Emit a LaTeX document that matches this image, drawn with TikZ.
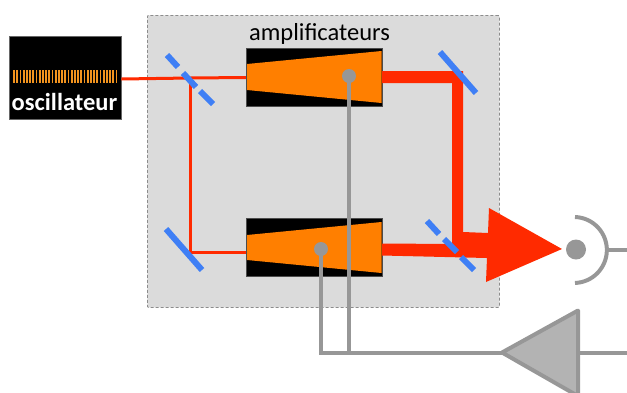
\documentclass[tikz,border=0pt]{standalone}
\usepackage{fontspec}
\setmainfont{Carlito}
\definecolor{redb}{HTML}{FF2A00}
\definecolor{blueb}{HTML}{3F7FF5}
\definecolor{grayl}{HTML}{979797}
\definecolor{panel}{HTML}{DBDBDB}
\definecolor{orng}{HTML}{FF7F00}
\definecolor{orbar}{HTML}{F2931E}
\definecolor{trif}{HTML}{B3B3B3}
\tikzset{
 mirror/.style={draw=blueb,line width=6pt},
 thinbeam/.style={draw=redb,line width=3pt},
 wire/.style={draw=grayl,line width=4pt},
 ampbox/.style={fill=black,draw=black!70,line width=.5pt,minimum width=136pt,minimum height=58pt,inner sep=0pt,anchor=north west},
 gain/.style={fill=orng},
 dot/.style={circle,fill=grayl,inner sep=0pt,minimum size=14pt},
}
\begin{document}
\begin{tikzpicture}[x=1pt,y=-1pt]
\useasboundingbox (0,0) rectangle (627,392);
% panel
\node[draw=black!45,densely dashed,line width=.8pt,fill=panel,rounded corners=1pt,minimum width=352pt,minimum height=292pt,inner sep=0pt,anchor=north west] (panelbox) at (147,15) {};
% oscillator
\node[fill=black,draw=black!60,line width=.4pt,minimum width=112pt,minimum height=83pt,inner sep=0pt,anchor=north west] (osc) at (9,36) {};
\foreach \i in {0,...,32} \fill[orbar] ({13.2+\i*3.2},69.5) rectangle ++(1.7,13.5);
\node[text=white,font=\fontsize{24.5}{26}\selectfont\bfseries,inner sep=0pt] (osclabel) at (64.5,102) {oscillateur};
% amplifiers
\node[ampbox] (ampA) at (246,48) {};
\node[ampbox] (ampB) at (246,218) {};
\fill[gain] (247,64) -- (381.5,51) -- (381.5,103) -- (247,90) -- cycle;
\fill[gain] (247,235) -- (381.5,222) -- (381.5,273) -- (247,260) -- cycle;
\node[font=\fontsize{24.5}{26}\selectfont,inner sep=0pt] (amplabel) at (319.5,33.5) {amplificateurs};
% named beam points
\coordinate (splitter) at (190,78);
\coordinate (foldL) at (190,252);
% thin beams
\draw[thinbeam] (osc.east |- 0,79) -- (splitter) -- (ampA.west |- 0,77.5);
\draw[thinbeam] (splitter) -- (foldL) -- (ampB.west |- 0,252);
% thick beams and output arrow
\fill[redb] (382,71) -- (463,71) -- (463,232) -- (488,233) -- (489,208) -- (562,249) -- (486,282) -- (487,258) -- (382,255.5) -- (382,243.5) -- (452,244) -- (452,83) -- (382,83) -- cycle;
% mirrors
\coordinate (m1a) at (167,55); \coordinate (m1b) at (178,67);
\coordinate (m1c) at (183,73); \coordinate (m1d) at (196,87);
\coordinate (m1e) at (200,91); \coordinate (m1f) at (213,104);
\draw[mirror] (m1a) -- (m1b);
\draw[mirror] (m1c) -- (m1d);
\draw[mirror] (m1e) -- (m1f);
\coordinate (m2a) at (166,229); \coordinate (m2b) at (202,270);
\draw[mirror] (m2a) -- (m2b);
\coordinate (m3a) at (440,52); \coordinate (m3b) at (476,93);
\draw[mirror] (m3a) -- (m3b);
\coordinate (m4a) at (427,221); \coordinate (m4b) at (439,234);
\coordinate (m4c) at (444,239); \coordinate (m4d) at (457,252);
\coordinate (m4e) at (461,257); \coordinate (m4f) at (474,270);
\draw[mirror] (m4a) -- (m4b);
\draw[mirror] (m4c) -- (m4d);
\draw[mirror] (m4e) -- (m4f);
% driver triangle
\coordinate (tip) at (502,352.5);
\coordinate (triTop) at (578,310.5);
\coordinate (triBot) at (578,396);
\coordinate (triBack) at (578,352.5);
\coordinate (outR) at (627,352.5);
\node[dot] (dotA) at (349,76) {};
\node[dot] (dotB) at (321,249) {};
\coordinate (busB) at (321,352.5);
\draw[wire] (dotA.center) -- (349,352.5);
\draw[wire] (dotB.center) -- (busB) -- (tip);
\draw[wire,fill=trif,line join=round] (tip) -- (triTop) -- (triBot) -- cycle;
\draw[wire] (triBack) -- (outR);
% detector
\node[circle,fill=grayl,inner sep=0pt,minimum size=20pt] (det) at (576,249.5) {};
\coordinate (detArcS) at (575,217);
\coordinate (detOut) at (627,249.5);
\draw[wire] (detArcS) arc[start angle=-88,end angle=88,radius=33] coordinate (detArcE);
\draw[wire] (607.5,249.5) -- (detOut);
\end{tikzpicture}
\end{document}
